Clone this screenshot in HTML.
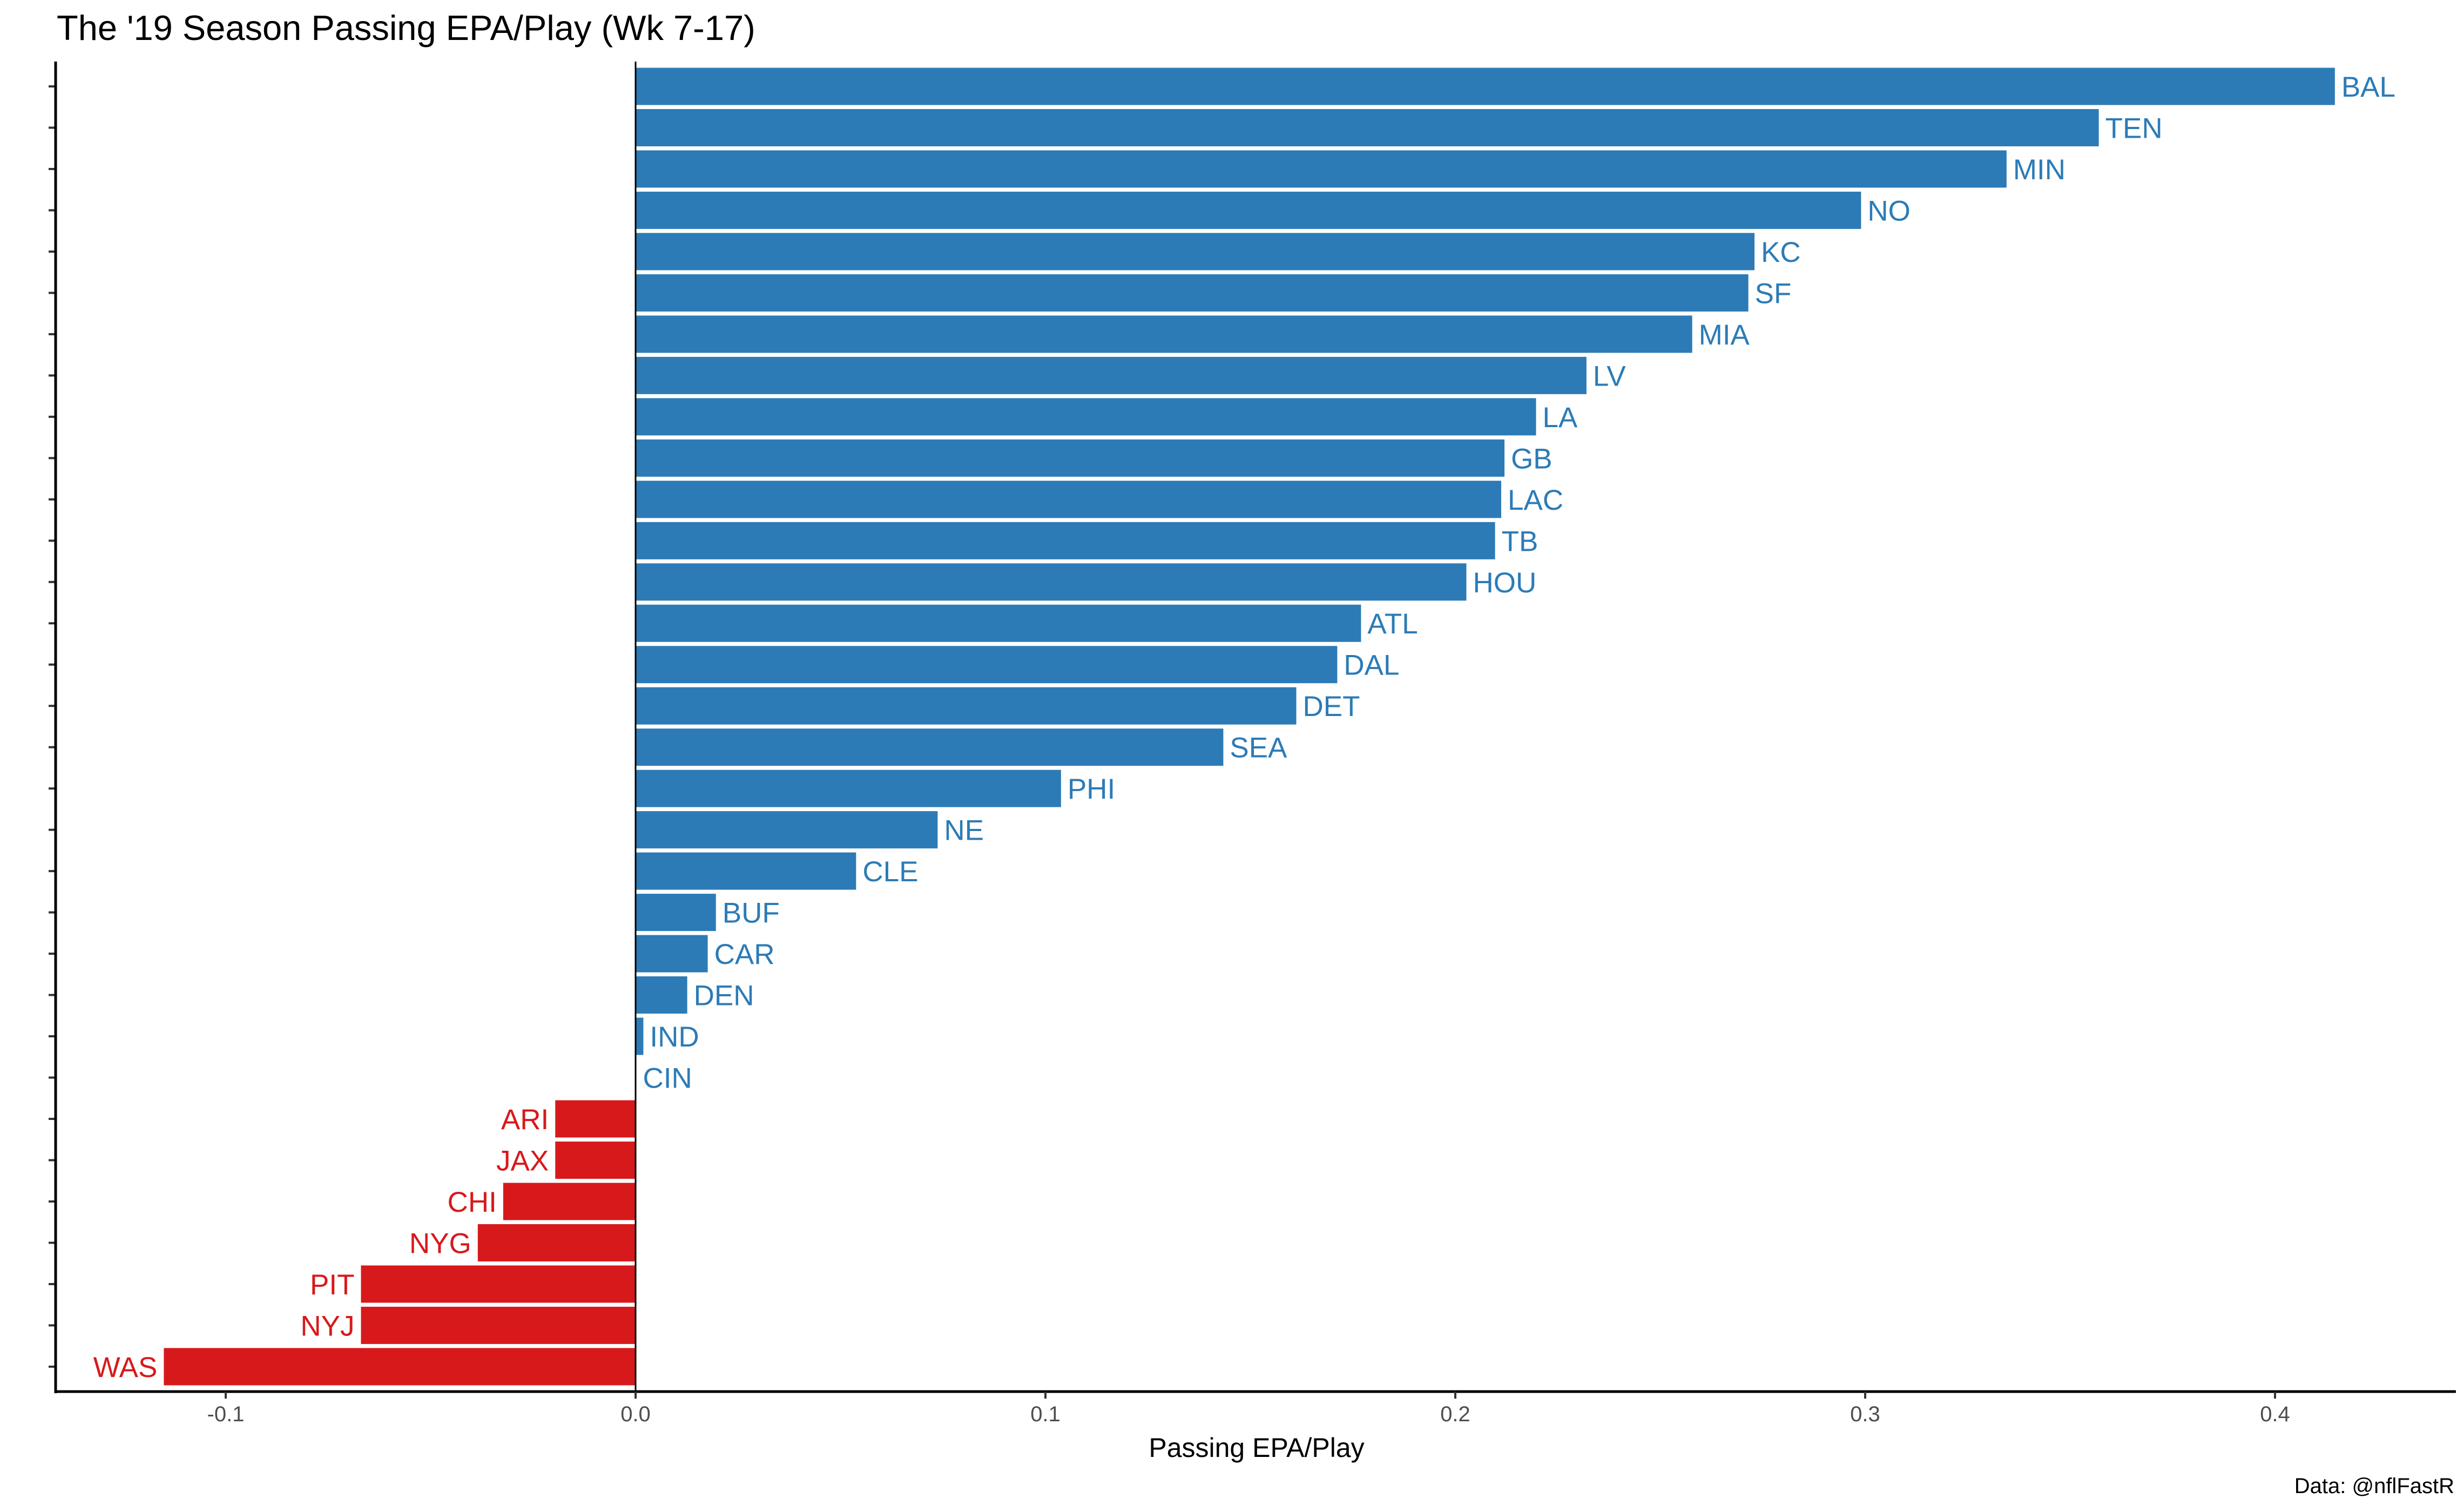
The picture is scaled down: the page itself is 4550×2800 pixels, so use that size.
<!DOCTYPE html>
<html><head><meta charset="utf-8"><style>
html,body{margin:0;padding:0;background:#fff;}
svg{display:block;font-family:"Liberation Sans",Arial,sans-serif;}
</style></head><body>
<svg id="chart" width="4550" height="2800" viewBox="0 0 4550 2800" xmlns="http://www.w3.org/2000/svg">
<text x="105" y="74" font-size="65" fill="#000">The '19 Season Passing EPA/Play (Wk 7-17)</text>
<g id="bars"></g>
<g id="axes"></g>
<text x="2327" y="2698" font-size="50" text-anchor="middle" fill="#000">Passing EPA/Play</text>
<text x="4545" y="2765" font-size="40" text-anchor="end" fill="#000">Data: @nflFastR</text>
</svg>
<script>
const teams = ["BAL","TEN","MIN","NO","KC","SF","MIA","LV","LA","GB","LAC","TB","HOU","ATL","DAL","DET","SEA","PHI","NE","CLE","BUF","CAR","DEN","IND","CIN","ARI","JAX","CHI","NYG","PIT","NYJ","WAS"];
const epa = [0.4146,0.3570,0.3345,0.2990,0.2730,0.2715,0.2578,0.2320,0.2197,0.2120,0.2112,0.2097,0.2027,0.1770,0.1712,0.1612,0.1434,0.1038,0.0737,0.0538,0.0196,0.0176,0.0126,0.0019,0.0002,-0.0196,-0.0196,-0.0323,-0.0385,-0.0670,-0.0670,-0.1151];
const xTicks = [-0.1,0.0,0.1,0.2,0.3,0.4];
const xTickLabels = ["-0.1","0.0","0.1","0.2","0.3","0.4"];

const NS="http://www.w3.org/2000/svg";
const x0=1177, pxPer=7590;
function xScale(v){return x0+v*pxPer;}
const yTop=160, pitch=76.48, barH=69;
function yScale(i){return yTop+i*pitch;}
function mk(tag,attrs){const e=document.createElementNS(NS,tag);for(const k in attrs)e.setAttribute(k,attrs[k]);return e;}
const bars=document.getElementById('bars'), axes=document.getElementById('axes');
teams.forEach((t,i)=>{
  const v=epa[i], pos=v>=0, col=pos?"#2C7BB6":"#D7191C";
  const x1=xScale(0), x2=xScale(v), cy=yScale(i);
  const r=mk('rect',{x:Math.min(x1,x2),y:cy-barH/2,width:Math.abs(x2-x1),height:barH,fill:col});
  
  
  bars.appendChild(r);
  const tx=mk('text',{x:pos?x2+12:x2-12,y:cy+19,'font-size':53,fill:col,'text-anchor':pos?'start':'end'});
  tx.textContent=t;
  
  
  bars.appendChild(tx);
  const tk=mk('line',{x1:90,x2:103,y1:cy,y2:cy,stroke:'#333','stroke-width':4});
  
  
  axes.appendChild(tk);
});
const zl=mk('line',{x1:x0,x2:x0,y1:114,y2:2577,stroke:'#000','stroke-width':3});


axes.appendChild(zl);
const ya=mk('line',{x1:103,x2:103,y1:114,y2:2580,stroke:'#000','stroke-width':5});


axes.appendChild(ya);
const xa=mk('line',{x1:101,x2:4548,y1:2577,y2:2577,stroke:'#000','stroke-width':5});


axes.appendChild(xa);
xTicks.forEach((v,i)=>{
  const x=xScale(v);
  const l=mk('line',{x1:x,x2:x,y1:2577,y2:2590,stroke:'#333','stroke-width':4});
  
  
  axes.appendChild(l);
  const t=mk('text',{x:x,y:2632,'font-size':40,fill:'#4d4d4d','text-anchor':'middle'});
  t.textContent=xTickLabels[i];
  
  
  axes.appendChild(t);
});
</script>
</body></html>
